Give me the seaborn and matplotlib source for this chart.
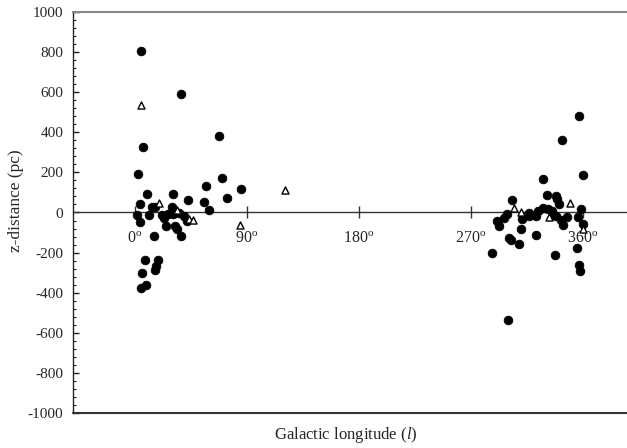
import matplotlib
matplotlib.use("Agg")
import matplotlib.pyplot as plt
import matplotlib.ticker as mticker
import seaborn as sns
import pandas as pd

# ---- data (Galactic longitude in degrees, z-distance in pc) ----
circle_l = [5.5, 37, 68, 6.6, 2.6, 70, 57.6, 85.5, 10.3, 31, 74, 43, 55.5, 4.4,
            14, 16.5, 29.8, 60, 2, 11.6, 22.3, 24, 27, 31, 36, 40, 42, 4.4,
            25.3, 32.5, 34.4, 37.3, 15.7, 8.4, 18.6, 17.3, 16.7, 6, 9.2, 5,
            356.8, 343, 359.8, 328, 303, 331, 338, 339, 341, 358.6, 298.8,
            296.8, 290.8, 292.8, 310.8, 312, 316.3, 317, 322, 324, 328, 332,
            335, 336, 338.3, 342.3, 343.7, 347.4, 355.8, 359.8, 310, 300.6,
            302, 308.9, 322.3, 287.2, 337.8, 355.4, 356.8, 357.3, 300]
circle_z = [805, 593, 380, 327, 190, 172, 130, 118, 93, 90, 73, 63, 53, 40,
            25, 25, 28, 12, -10, -12, -10, -25, -7, -8, -3, -18, -43, -45,
            -65, -68, -80, -115, -115, -237, -235, -268, -288, -303, -362, -377,
            482, 363, 187, 167, 63, 88, 82, 65, 42, 18, -7,
            -27, -40, -65, -30, -15, -2, -18, -15, 7, 23, 18,
            7, -10, -15, -35, -60, -23, -20, -57, -80, -125,
            -138, -157, -112, -203, -210, -177, -262, -290, -538]
tri_l = [5, 121, 19.4, 34, 44, 47, 85, 349.6, 304.9, 310, 332.7, 359.8]
tri_z = [537, 113, 45, 10, -30, -37, -63, 48, 20, 2, -22, -80]

x_ticks = [0, 90, 180, 270, 360]
x_tick_labels = [r'$0^{o}$', r'$90^{o}$', r'$180^{o}$', r'$270^{o}$', r'$360^{o}$']
y_ticks = list(range(-1000, 1001, 200))

circles = pd.DataFrame({"l": circle_l, "z": circle_z})
triangles = pd.DataFrame({"l": tri_l, "z": tri_z})

sns.set_style("white")
plt.rcParams['font.family'] = ['Liberation Serif', 'DejaVu Serif']
plt.rcParams['mathtext.fontset'] = 'custom'
plt.rcParams['mathtext.rm'] = 'Liberation Serif'
plt.rcParams['mathtext.it'] = 'Liberation Serif:italic'
plt.rcParams['mathtext.default'] = 'regular'
plt.rcParams['axes.unicode_minus'] = False

fig = plt.figure(figsize=(6.27, 4.48), dpi=100)
ax = fig.add_axes([73 / 627, 35 / 448, 554 / 627, 401 / 448])

sns.scatterplot(data=circles, x="l", y="z", ax=ax, marker="o", s=40,
                color="black", edgecolor="black", linewidth=0.5, zorder=3)
sns.scatterplot(data=triangles, x="l", y="z", ax=ax, marker="^", s=26,
                facecolor="white", edgecolor="black", linewidth=1.0, zorder=4)

ax.set_xlim(-49.4, 395.3)
ax.set_ylim(-1000, 1000)

# zero line carrying the longitude ticks
ax.spines['bottom'].set_position(('data', 0))
ax.spines['bottom'].set_color('#333333')
ax.spines['bottom'].set_linewidth(1.0)
ax.spines['right'].set_visible(False)
ax.spines['top'].set_color('#888888')
ax.spines['top'].set_linewidth(1.5)
ax.spines['left'].set_color('#222222')
ax.spines['left'].set_linewidth(1.0)
# frame bottom line
ax.axhline(-1000, color='#333333', lw=1.5, clip_on=False, zorder=2.5)

ax.set_xticks(x_ticks)
ax.set_xticklabels(x_tick_labels)
ax.tick_params(axis='x', direction='inout', length=9, width=1, color='#333333',
               labelsize=11.5, pad=8.5, bottom=True, top=False)

ax.set_yticks(y_ticks)
ax.yaxis.set_major_formatter(mticker.FuncFormatter(lambda v, p: f"{int(v)}"))
ax.yaxis.set_minor_locator(mticker.MultipleLocator(40))
ax.tick_params(axis='y', which='major', direction='in', length=4.3, width=1,
               color='#222222', labelsize=11, pad=7, left=True, right=False)
ax.tick_params(axis='y', which='minor', direction='in', length=2.4, width=0.8,
               color='#222222', left=True, right=False)

ax.set_xlabel(r'Galactic longitude ($\mathit{l}$)', fontsize=12)
ax.xaxis.set_label_coords(0.493, -0.03)
ax.set_ylabel('z-distance (pc)', fontsize=12.5)
ax.yaxis.set_label_coords(-0.088, 0.53)

fig.savefig("out.png", dpi=100)
